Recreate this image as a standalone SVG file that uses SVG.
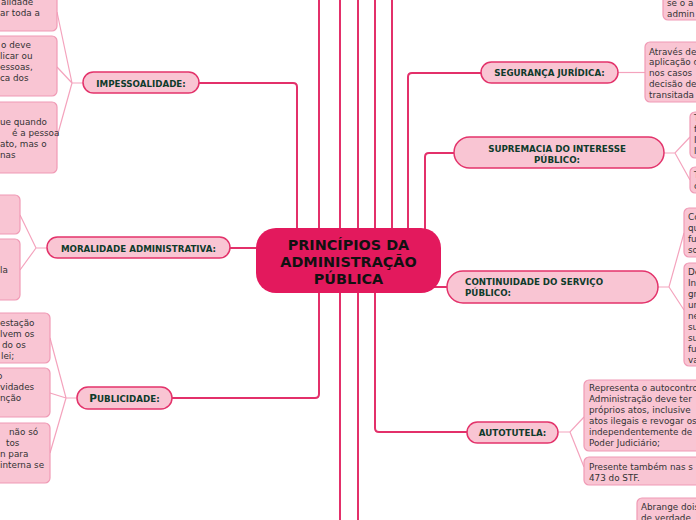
<svg xmlns="http://www.w3.org/2000/svg" width="696" height="520" viewBox="0 0 696 520">
<style>
.main{fill:none;stroke:#e3306a;stroke-width:2}
.sub{fill:none;stroke:#f4a3bd;stroke-width:1.2}
.topic{fill:#f9c5d3;stroke:#e3336b;stroke-width:1.5}
.leaf{fill:#f9c5d3;stroke:#f09ab5;stroke-width:1.2}
.tt{font-family:"DejaVu Sans","Liberation Sans",sans-serif;font-weight:bold;font-size:8.7px;fill:#0e3b2b}
.lt{font-family:"DejaVu Sans","Liberation Sans",sans-serif;font-size:8.8px;fill:#333333}
.ct{font-family:"DejaVu Sans","Liberation Sans",sans-serif;font-weight:bold;font-size:14.4px;fill:#111111;text-anchor:middle}
</style>
<rect width="696" height="520" fill="#ffffff"/>
<g id="connectors">
<path class="main" d="M297,240 V87 Q297,83 293,83 H199"/>
<path class="main" d="M319,240 V0"/>
<path class="main" d="M340,240 V0"/>
<path class="main" d="M358,240 V0"/>
<path class="main" d="M375,240 V0"/>
<path class="main" d="M392,240 V0"/>
<path class="main" d="M408,240 V77 Q408,73 412,73 H481"/>
<path class="main" d="M425,240 V157 Q425,153 429,153 H454"/>
<path class="main" d="M270,248 H230"/>
<path class="main" d="M430,287 H447"/>
<path class="main" d="M319,280 V394 Q319,398 315,398 H172"/>
<path class="main" d="M340,280 V520"/>
<path class="main" d="M358,280 V520"/>
<path class="main" d="M375,280 V428 Q375,432 379,432 H467"/>
<path class="sub" d="M83,83 H72 L57,12 M72,83 L57,67 M72,83 L57,137"/>
<path class="sub" d="M47,248 H36 L20,215 M36,248 L20,270"/>
<path class="sub" d="M77,398 H66 L50,338 M66,398 L50,393 M66,398 L50,453"/>
<path class="sub" d="M618,72.5 H645"/>
<path class="sub" d="M664,153 H675 L690,137 M675,153 L690,180"/>
<path class="sub" d="M658,287 H669 L684,233 M669,287 L684,310"/>
<path class="sub" d="M558,432 H570 L584,417 M570,432 L584,467"/>
</g>
<g id="central">
<rect x="256" y="228" width="185" height="65" rx="20" fill="#e3195d"/>
<text class="ct" x="348.5" y="250">PRINCÍPIOS DA</text>
<text class="ct" x="348.5" y="267">ADMINISTRAÇÃO</text>
<text class="ct" x="348.5" y="284">PÚBLICA</text>
</g>
<g id="impessoalidade">
<rect class="topic" x="83" y="72" width="116" height="21" rx="10.5"/>
<text class="tt" x="141" y="86.5" text-anchor="middle">IMPESSOALIDADE:</text>
</g>
<g id="imp-leaf1">
<rect class="leaf" x="-10" y="-10" width="67" height="41" rx="5"/>
<text class="lt" x="1" y="5">alidade</text>
<text class="lt" x="0" y="16">ar toda a</text>
</g>
<g id="imp-leaf2">
<rect class="leaf" x="-10" y="36" width="67" height="60" rx="5"/>
<text class="lt" x="1" y="48">o deve</text>
<text class="lt" x="0" y="59">licar ou</text>
<text class="lt" x="0" y="70">essoas,</text>
<text class="lt" x="0" y="81">ca dos</text>
</g>
<g id="imp-leaf3">
<rect class="leaf" x="-10" y="102" width="67" height="71" rx="5"/>
<text class="lt" x="0" y="125">ue quando</text>
<text class="lt" x="12" y="136">é a pessoa</text>
<text class="lt" x="0" y="147">ato, mas o</text>
<text class="lt" x="0" y="158">nas</text>
</g>
<g id="moralidade">
<rect class="topic" x="47" y="237" width="183" height="21" rx="10.5"/>
<text class="tt" x="138.5" y="251.5" text-anchor="middle">MORALIDADE ADMINISTRATIVA:</text>
</g>
<g id="mor-leaf1">
<rect class="leaf" x="-10" y="195" width="30" height="39" rx="5"/>
</g>
<g id="mor-leaf2">
<rect class="leaf" x="-10" y="239" width="30" height="61" rx="5"/>
<text class="lt" x="0" y="273">la</text>
</g>
<g id="publicidade">
<rect class="topic" x="77" y="387" width="95" height="22" rx="11"/>
<text class="tt" x="124.5" y="402" text-anchor="middle"><tspan font-size="10.5">P</tspan>UBLICIDADE:</text>
</g>
<g id="pub-leaf1">
<rect class="leaf" x="-10" y="313" width="60" height="50" rx="5"/>
<text class="lt" x="0" y="325.5">estação</text>
<text class="lt" x="0" y="336.5">lvem os</text>
<text class="lt" x="2" y="347.5">do os</text>
<text class="lt" x="1" y="359">lei;</text>
</g>
<g id="pub-leaf2">
<rect class="leaf" x="-10" y="368" width="60" height="49" rx="5"/>
<text class="lt" x="-3" y="379">o</text>
<text class="lt" x="0" y="390">vidades</text>
<text class="lt" x="0" y="401">nção</text>
</g>
<g id="pub-leaf3">
<rect class="leaf" x="-10" y="423" width="60" height="60" rx="5"/>
<text class="lt" x="9" y="435">não só</text>
<text class="lt" x="6" y="446">tos</text>
<text class="lt" x="0" y="457">n para</text>
<text class="lt" x="0" y="468">interna se</text>
</g>
<g id="top-right-leaf">
<rect class="leaf" x="663" y="-10" width="60" height="30" rx="5"/>
<text class="lt" x="667" y="6">se o a</text>
<text class="lt" x="667" y="17">admin</text>
</g>
<g id="seguranca">
<rect class="topic" x="481" y="62" width="137" height="21" rx="10.5"/>
<text class="tt" x="549.5" y="76" text-anchor="middle">SEGURANÇA JURÍDICA:</text>
</g>
<g id="seg-leaf">
<rect class="leaf" x="645" y="42" width="70" height="60" rx="5"/>
<text class="lt" x="649" y="54.5">Através de</text>
<text class="lt" x="649" y="65.4">aplicação d</text>
<text class="lt" x="649" y="76.3">nos casos</text>
<text class="lt" x="649" y="87.2">decisão de</text>
<text class="lt" x="649" y="98.1">transitada</text>
</g>
<g id="supremacia">
<rect class="topic" x="454" y="137" width="210" height="31" rx="15.5"/>
<text class="tt" x="557" y="151.5" text-anchor="middle">SUPREMACIA DO INTERESSE</text>
<text class="tt" x="557" y="163" text-anchor="middle">PÚBLICO:</text>
</g>
<g id="sup-leaf1">
<rect class="leaf" x="690" y="112" width="30" height="46" rx="5"/>
<text class="lt" x="694" y="121">T</text>
<text class="lt" x="694" y="132">f</text>
<text class="lt" x="694" y="143">I</text>
<text class="lt" x="694" y="154">l</text>
</g>
<g id="sup-leaf2">
<rect class="leaf" x="690" y="167" width="30" height="26" rx="5"/>
<text class="lt" x="694" y="178">T</text>
<text class="lt" x="694" y="189">c</text>
</g>
<g id="continuidade">
<rect class="topic" x="447" y="271" width="211" height="32" rx="16"/>
<text class="tt" x="465" y="284.5">CONTINUIDADE DO SERVIÇO</text>
<text class="tt" x="465" y="296">PÚBLICO:</text>
</g>
<g id="cont-leaf1">
<rect class="leaf" x="684" y="208" width="30" height="49" rx="5"/>
<text class="lt" x="688" y="220">Co</text>
<text class="lt" x="688" y="231">qu</text>
<text class="lt" x="688" y="242">fu</text>
<text class="lt" x="688" y="253">so</text>
</g>
<g id="cont-leaf2">
<rect class="leaf" x="684" y="263" width="30" height="103" rx="5"/>
<text class="lt" x="688" y="275">De</text>
<text class="lt" x="688" y="286">In</text>
<text class="lt" x="688" y="297">gr</text>
<text class="lt" x="688" y="308">ur</text>
<text class="lt" x="688" y="319">ne</text>
<text class="lt" x="688" y="330">su</text>
<text class="lt" x="688" y="341">su</text>
<text class="lt" x="688" y="352">fu</text>
<text class="lt" x="688" y="363">va</text>
</g>
<g id="autotutela">
<rect class="topic" x="467" y="422" width="91" height="21" rx="10.5"/>
<text class="tt" x="512.5" y="436" text-anchor="middle">AUTOTUTELA:</text>
</g>
<g id="auto-leaf1">
<rect class="leaf" x="584" y="380" width="130" height="71" rx="5"/>
<text class="lt" x="589" y="391">Representa o autocontro</text>
<text class="lt" x="589" y="402">Administração deve ter</text>
<text class="lt" x="589" y="413">próprios atos, inclusive</text>
<text class="lt" x="589" y="424">atos ilegais e revogar os</text>
<text class="lt" x="589" y="435">independentemente de</text>
<text class="lt" x="589" y="446">Poder Judiciário;</text>
</g>
<g id="auto-leaf2">
<rect class="leaf" x="584" y="457" width="130" height="28" rx="5"/>
<text class="lt" x="589" y="470">Presente também nas s</text>
<text class="lt" x="589" y="481">473 do STF.</text>
</g>
<g id="bottom-leaf">
<rect class="leaf" x="637" y="498" width="80" height="40" rx="5"/>
<text class="lt" x="641" y="510">Abrange dois</text>
<text class="lt" x="641" y="521">de verdade</text>
</g>
</svg>
